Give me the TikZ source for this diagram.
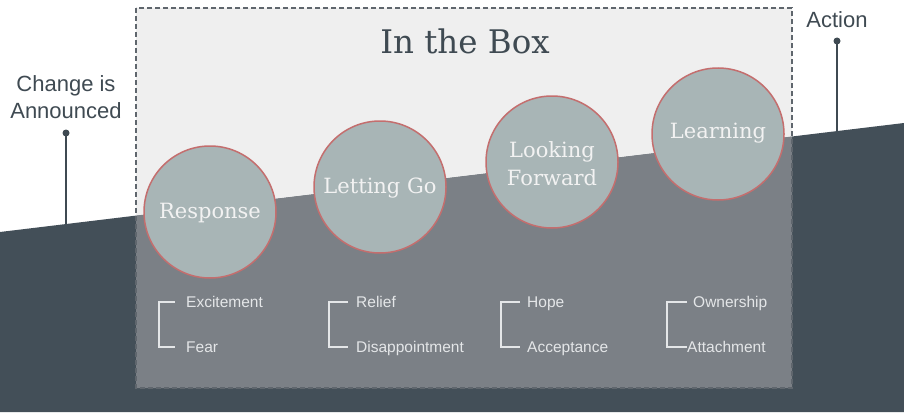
\documentclass[tikz,border=0pt]{standalone}
\usepackage{fontspec}
\setmainfont{Liberation Sans}
\newfontfamily\serifA{DejaVu Serif}
\usetikzlibrary{calc}
\definecolor{darkslope}{HTML}{434F58}
\definecolor{boxtop}{HTML}{EFEFEF}
\definecolor{boxlow}{HTML}{7B8086}
\definecolor{circfill}{HTML}{A8B5B6}
\definecolor{circedge}{HTML}{C46E6E}
\definecolor{labelc}{HTML}{3F4A52}
\definecolor{lighttext}{HTML}{F2F2F2}
\definecolor{itemtext}{HTML}{E4E6E8}
\definecolor{dashc}{HTML}{5F666D}
\tikzset{
  stage/.style={circle, fill=circfill, draw=circedge, line width=1.5pt, minimum size=132pt, inner sep=0pt},
  stagetext/.style={text=lighttext, font=\serifA\fontsize{21}{28}\selectfont, align=center, inner sep=0pt},
  item/.style={text=itemtext, font=\fontsize{15.5}{18}\selectfont, anchor=base west, inner sep=0pt},
  bracketline/.style={draw=itemtext, line width=1.2pt},
  callout/.style={font=\fontsize{22}{27}\selectfont, text=labelc, align=center, inner sep=0pt},
  pin dot/.style={circle, fill=labelc, inner sep=0pt, minimum size=7pt},
  pinline/.style={draw=labelc, line width=1.3pt}
}
\begin{document}
\begin{tikzpicture}[x=1pt,y=-1pt]
\useasboundingbox (0,0) rectangle (904,412);
\fill[white] (0,0) rectangle (904,412);
% dark slope
\fill[darkslope] (0,232) -- (904,123) -- (904,412) -- (0,412) -- cycle;
% box regions
\fill[boxtop] (136,8) -- (792,8) -- (792,136.5) -- (136,215.6) -- cycle;
\fill[boxlow] (136,215.6) -- (792,136.5) -- (792,388) -- (136,388) -- cycle;
\draw[dashc, line width=1.1pt, dash pattern=on 5pt off 3pt] (136,8) rectangle (792,388);
% title
\node[font=\serifA\fontsize{32.5}{38}\selectfont, text=labelc, inner sep=0pt] (title) at (465,41) {In the Box};
% stages
\node[stage] (c1) at (210,212) {};
\node[stage] (c2) at (380,187) {};
\node[stage] (c3) at (552,162) {};
\node[stage] (c4) at (718,134) {};
\node[stagetext] (t1) at (210,213) {Response};
\node[stagetext] (t2) at (380,188) {Letting Go};
\node[stagetext] (t3) at (552,164) {Looking\\Forward};
\node[stagetext] (t4) at (718,133) {Learning};
% callouts
\node[callout] (chg) at (66,97) {Change is\\Announced};
\node[pin dot] (d1) at (66,133) {};
\coordinate (s1) at (66,224);
\draw[pinline] (d1.center) -- (s1);
\node[callout] (act) at (837,20) {Action};
\node[pin dot] (d2) at (837,41) {};
\coordinate (s2) at (837,131);
\draw[pinline] (d2.center) -- (s2);
% items
\node[item] (e1) at (186,307.5) {Excitement};
\node[item] (f1) at (186,352.5) {Fear};
\node[item] (e2) at (356,307.5) {Relief};
\node[item] (f2) at (356,352.5) {Disappointment};
\node[item] (e3) at (527,307.5) {Hope};
\node[item] (f3) at (527,352.5) {Acceptance};
\node[item] (e4) at (693,307.5) {Ownership};
\node[item] (f4) at (687,352.5) {Attachment};
% brackets
\draw[bracketline] ($(e1.base west)+(-11,-5.5)$) -- ++(-16,0) |- ($(f1.base west)+(-11,-5.5)$);
\draw[bracketline] ($(e2.base west)+(-8,-5.5)$) -- ++(-19,0) |- ($(f2.base west)+(-8,-5.5)$);
\draw[bracketline] ($(e3.base west)+(-7,-5.5)$) -- ++(-19,0) |- ($(f3.base west)+(-7,-5.5)$);
\draw[bracketline] ($(e4.base west)+(-6,-5.5)$) -- ++(-20,0) |- ($(f4.base west)+(0,-5.5)$);
\end{tikzpicture}
\end{document}
